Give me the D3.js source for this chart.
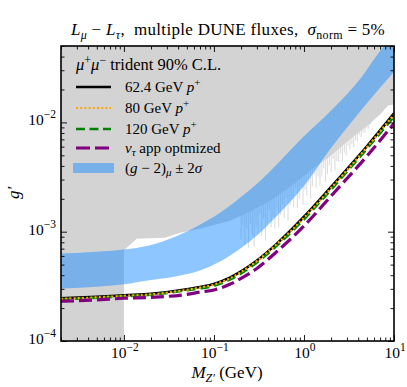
<!DOCTYPE html>
<html>
<head>
<meta charset="utf-8">
<script src="https://cdn.jsdelivr.net/npm/d3@7"></script>
<style>
  body { margin: 0; background: #fff; }
  svg { display: block; }
  text { font-family: "Liberation Serif", "DejaVu Serif", serif; fill: #000; white-space: pre; }
</style>
</head>
<body>
<svg id="chart" width="407" height="387"></svg>
<script>
// trident 90% C.L. curves (g' vs M_Z' in GeV)
const massGrid = [0.002, 0.005, 0.01, 0.02, 0.05, 0.07, 0.1, 0.15, 0.2, 0.3, 0.5, 1, 2, 5, 10];
const flux62 = [2.46e-4, 2.54e-4, 2.62e-4, 2.70e-4, 2.97e-4, 3.12e-4, 3.33e-4, 3.80e-4, 4.33e-4, 5.45e-4, 7.78e-4, 1.37e-3, 2.57e-3, 6.05e-3, 1.21e-2];
const flux80 = [2.43e-4, 2.51e-4, 2.59e-4, 2.67e-4, 2.94e-4, 3.08e-4, 3.28e-4, 3.74e-4, 4.28e-4, 5.39e-4, 7.70e-4, 1.34e-3, 2.51e-3, 5.92e-3, 1.18e-2];
const flux120 = [2.41e-4, 2.49e-4, 2.57e-4, 2.65e-4, 2.91e-4, 3.03e-4, 3.20e-4, 3.64e-4, 4.15e-4, 5.23e-4, 7.46e-4, 1.30e-3, 2.43e-3, 5.74e-3, 1.13e-2];
const fluxNuTau = [2.31e-4, 2.38e-4, 2.46e-4, 2.51e-4, 2.67e-4, 2.80e-4, 2.93e-4, 3.30e-4, 3.74e-4, 4.61e-4, 6.58e-4, 1.13e-3, 2.12e-3, 4.91e-3, 9.79e-3];

// (g-2)_mu +- 2 sigma band
const bandMass = [0.002, 0.0054, 0.01, 0.019, 0.037, 0.07, 0.117, 0.195, 0.325, 0.54, 1, 1.95, 4.2, 7, 10];
const bandHigh = [6.31e-4, 6.58e-4, 6.86e-4, 7.46e-4, 9.0e-4, 1.16e-3, 1.49e-3, 2.04e-3, 2.91e-3, 4.42e-3, 7.46e-3, 1.26e-2, 2.50e-2, 4.5e-2, 6.3e-2];
const bandLow = [3.03e-4, 3.16e-4, 3.30e-4, 3.59e-4, 3.90e-4, 4.42e-4, 5.34e-4, 7.0e-4, 9.79e-4, 1.49e-3, 2.62e-3, 5.68e-3, 1.26e-2, 2.08e-2, 2.91e-2];

// excluded region (grey), lower edge for M > 10 MeV
const exclMass = [0.01, 0.0108, 0.0139, 0.0286, 0.0419, 0.0699, 0.151, 0.251, 0.419, 0.699, 1.166, 1.945, 3.24, 5.41, 6.99, 8.58, 10];
const exclG = [6.72e-4, 7.15e-4, 8.63e-4, 8.82e-4, 9.79e-4, 1.065e-3, 1.26e-3, 1.52e-3, 1.91e-3, 2.57e-3, 3.59e-3, 4.91e-3, 7.0e-3, 9.79e-3, 1.182e-2, 1.427e-2, 1.458e-2];
// noisy spikes below the grey edge (fraction of the way down to the curve)
const spikeDepth = [0.45, 0.2, 0.6, 0.3, 0.7, 0.25, 0.5, 0.75, 0.35, 0.55, 0.15, 0.65, 0.3, 0.8, 0.45, 0.2, 0.6, 0.4, 0.7, 0.25,
  0.75, 0.5, 0.3, 0.65, 0.2, 0.8, 0.45, 0.35, 0.6, 0.15, 0.7, 0.5, 0.25, 0.75, 0.4, 0.6, 0.3, 0.8, 0.5, 0.2,
  0.65, 0.35, 0.7, 0.45, 0.25, 0.75, 0.55, 0.3, 0.6, 0.2, 0.7, 0.4, 0.5, 0.25, 0.65, 0.35, 0.55, 0.2, 0.45, 0.3,
  0.5, 0.25, 0.4, 0.15, 0.35, 0.2, 0.3, 0.15, 0.25, 0.1];

const xMajor = [0.01, 0.1, 1, 10];
const yMajor = [1e-4, 1e-3, 1e-2];

const svg = d3.select("#chart");
const mLeft = 61, mRight = 394, mTop = 46, mBottom = 341;

const x = d3.scaleLog().domain([0.002, 10]).range([mLeft, mRight]);
const y = d3.scaleLog().domain([1e-4, 0.05]).range([mBottom, mTop]);

svg.append("defs").append("clipPath").attr("id", "plotclip")
  .append("rect").attr("x", mLeft).attr("y", mTop).attr("width", mRight - mLeft).attr("height", mBottom - mTop);

const plot = svg.append("g").attr("clip-path", "url(#plotclip)");

// log-log interpolation
function interp(ms, gs, m) {
  const lm = Math.log(m);
  for (let i = 0; i < ms.length - 1; i++) {
    const a = Math.log(ms[i]), b = Math.log(ms[i + 1]);
    if (lm >= a && lm <= b) {
      const t = (lm - a) / (b - a);
      return Math.exp(Math.log(gs[i]) + t * (Math.log(gs[i + 1]) - Math.log(gs[i])));
    }
  }
  return lm < Math.log(ms[0]) ? gs[0] : gs[gs.length - 1];
}

//excluded region
const exclPts = [[0.002, 1e-4], [0.002, 0.05], [10, 0.05]];
for (let i = exclMass.length - 1; i >= 0; i--) exclPts.push([exclMass[i], exclG[i]]);
exclPts.push([0.01, 1e-4]);
plot.append("path")
  .attr("d", d3.line().x(d => x(d[0])).y(d => y(d[1]))(exclPts) + "Z")
  .attr("fill", "#d3d3d3");

//spikes
const spikeM = d3.range(spikeDepth.length).map(i => Math.exp(Math.log(0.2) + i / (spikeDepth.length - 1) * (Math.log(5.5) - Math.log(0.2))));
plot.selectAll(".spike").data(spikeM).enter().append("line")
  .attr("class", "spike")
  .attr("x1", d => x(d)).attr("x2", d => x(d))
  .attr("y1", d => y(interp(exclMass, exclG, d)) - 1)
  .attr("y2", (d, i) => {
    const g0 = interp(exclMass, exclG, d);
    const g1 = interp(massGrid, flux62, d) * 1.08;
    return y(Math.exp(Math.log(g0) + spikeDepth[i] * (Math.log(g1) - Math.log(g0))));
  })
  .attr("stroke", "#d3d3d3").attr("stroke-width", 1.1).attr("opacity", 0.75);

//g-2 band
const bandData = bandMass.map((m, i) => ({ m, lo: bandLow[i], hi: bandHigh[i] }));
plot.append("path")
  .attr("d", d3.area().x(d => x(d.m)).y0(d => y(d.lo)).y1(d => y(d.hi)).curve(d3.curveMonotoneX)(bandData))
  .attr("fill", "dodgerblue").attr("fill-opacity", 0.5);

//curves
const curves = [
  { vals: flux62, color: "#000", width: 2.6, dash: null },
  { vals: flux120, color: "green", width: 2.6, dash: "9,5" },
  { vals: flux80, color: "orange", width: 2.2, dash: "2,2.2" },
  { vals: fluxNuTau, color: "purple", width: 3.2, dash: "13,5" }
];
const line = d3.line().x(d => x(d[0])).y(d => y(d[1])).curve(d3.curveMonotoneX);
curves.forEach(c => {
  plot.append("path")
    .attr("d", line(massGrid.map((m, i) => [m, c.vals[i]])))
    .attr("fill", "none").attr("stroke", c.color).attr("stroke-width", c.width)
    .attr("stroke-dasharray", c.dash);
});

//ticks
const xMinor = [], yMinor = [];
[0.001, 0.01, 0.1, 1].forEach(d => { for (let k = 2; k <= 9; k++) if (d * k >= 0.002 && d * k <= 10) xMinor.push(d * k); });
[1e-4, 1e-3, 1e-2].forEach(d => { for (let k = 2; k <= 9; k++) if (d * k <= 0.05) yMinor.push(d * k); });

function addAxis(axisFn, scale, tr, vals, size) {
  const g = svg.append("g").attr("transform", tr)
    .call(axisFn(scale).tickValues(vals).tickSize(-size).tickFormat(""));
  g.select(".domain").remove();
  g.selectAll("line").attr("stroke", "#000").attr("stroke-width", 0.9);
}
addAxis(d3.axisBottom, x, `translate(0,${mBottom})`, xMajor, 6);
addAxis(d3.axisBottom, x, `translate(0,${mBottom})`, xMinor, 3.5);
addAxis(d3.axisTop, x, `translate(0,${mTop})`, xMajor, 6);
addAxis(d3.axisTop, x, `translate(0,${mTop})`, xMinor, 3.5);
addAxis(d3.axisLeft, y, `translate(${mLeft},0)`, yMajor, 6);
addAxis(d3.axisLeft, y, `translate(${mLeft},0)`, yMinor, 3.5);
addAxis(d3.axisRight, y, `translate(${mRight},0)`, yMajor, 6);
addAxis(d3.axisRight, y, `translate(${mRight},0)`, yMinor, 3.5);

//frame
svg.append("rect").attr("x", mLeft).attr("y", mTop).attr("width", mRight - mLeft).attr("height", mBottom - mTop)
  .attr("fill", "none").attr("stroke", "#000").attr("stroke-width", 1.6);

// rich text helper: parts = [text, {it, sup, sub, size}]
function rich(sel, parts, baseSize) {
  let cur = 0;
  parts.forEach(([t, o]) => {
    o = o || {};
    const target = o.sup ? -o.sup : (o.sub ? o.sub : 0);
    sel.append("tspan")
      .attr("dy", target - cur)
      .style("font-style", o.it ? "italic" : "normal")
      .style("font-size", (o.size || baseSize) + "px")
      .text(t);
    cur = target;
  });
  return sel;
}
function powLabel(v) {
  const e = Math.round(Math.log10(v));
  return [["10"], [(e < 0 ? "\u2212" : "") + Math.abs(e), { sup: 7, size: 11.5 }]];
}

xMajor.forEach(v => {
  rich(svg.append("text").attr("x", x(v) + 1).attr("y", 358).attr("text-anchor", "middle").style("font-size", "15.5px"), powLabel(v), 15.5);
});
yMajor.forEach(v => {
  rich(svg.append("text").attr("x", 56).attr("y", y(v) + 3).attr("text-anchor", "end").style("font-size", "15.5px"), powLabel(v), 15.5);
});

//axis labels
rich(svg.append("text").attr("x", 227).attr("y", 378).attr("text-anchor", "middle").style("font-size", "17px"),
  [["M", { it: true }], ["Z\u2032", { it: true, sub: 3.5, size: 12 }], [" (GeV)"]], 17);
rich(svg.append("text").attr("transform", "translate(19,193) rotate(-90)").attr("text-anchor", "middle").style("font-size", "17px"),
  [["g\u2032", { it: true }]], 17);

//title
rich(svg.append("text").attr("x", 228).attr("y", 35).attr("text-anchor", "middle").style("font-size", "17px").style("letter-spacing", "0.3px"),
  [["L", { it: true }], ["\u03bc", { it: true, sub: 3.5, size: 12 }], [" \u2212 "], ["L", { it: true }], ["\u03c4", { it: true, sub: 3.5, size: 12 }],
   [",  multiple DUNE fluxes,  "], ["\u03c3", { it: true }], ["norm", { sub: 3.5, size: 12 }], [" = 5%"]], 17);

//legend
const legend = svg.append("g");
rich(legend.append("text").attr("x", 76).attr("y", 70).style("font-size", "16.5px"),
  [["\u03bc", { it: true }], ["+", { sup: 6, size: 12 }], ["\u03bc", { it: true }], ["\u2212", { sup: 6, size: 12 }], [" trident 90% C.L."]], 16.5);

const legendItems = [
  { color: "#000", width: 2.6, dash: null, y: 87, label: [["62.4 GeV "], ["p", { it: true }], ["+", { sup: 5.5, size: 11 }]] },
  { color: "orange", width: 2.2, dash: "2,2.2", y: 108, label: [["80 GeV "], ["p", { it: true }], ["+", { sup: 5.5, size: 11 }]] },
  { color: "green", width: 2.6, dash: "9,4.5", y: 129, label: [["120 GeV "], ["p", { it: true }], ["+", { sup: 5.5, size: 11 }]] },
  { color: "purple", width: 3.2, dash: "14,5", y: 148, label: [["\u03bd", { it: true }], ["\u03c4", { it: true, sub: 3, size: 11 }], [" app optmized"]] }
];
legendItems.forEach(d => {
  legend.append("line").attr("x1", 76).attr("x2", 111).attr("y1", d.y).attr("y2", d.y)
    .attr("stroke", d.color).attr("stroke-width", d.width).attr("stroke-dasharray", d.dash);
  rich(legend.append("text").attr("x", 125).attr("y", d.y + 4.5).style("font-size", "15px"), d.label, 15);
});
legend.append("rect").attr("x", 73).attr("y", 163).attr("width", 41).attr("height", 10)
  .attr("fill", "dodgerblue").attr("fill-opacity", 0.5);
rich(legend.append("text").attr("x", 125).attr("y", 172.5).style("font-size", "15px"),
  [["(", {}], ["g", { it: true }], [" \u2212 2)"], ["\u03bc", { it: true, sub: 3, size: 11 }], [" \u00b1 2"], ["\u03c3", { it: true }]], 15);
</script>
</body>
</html>
